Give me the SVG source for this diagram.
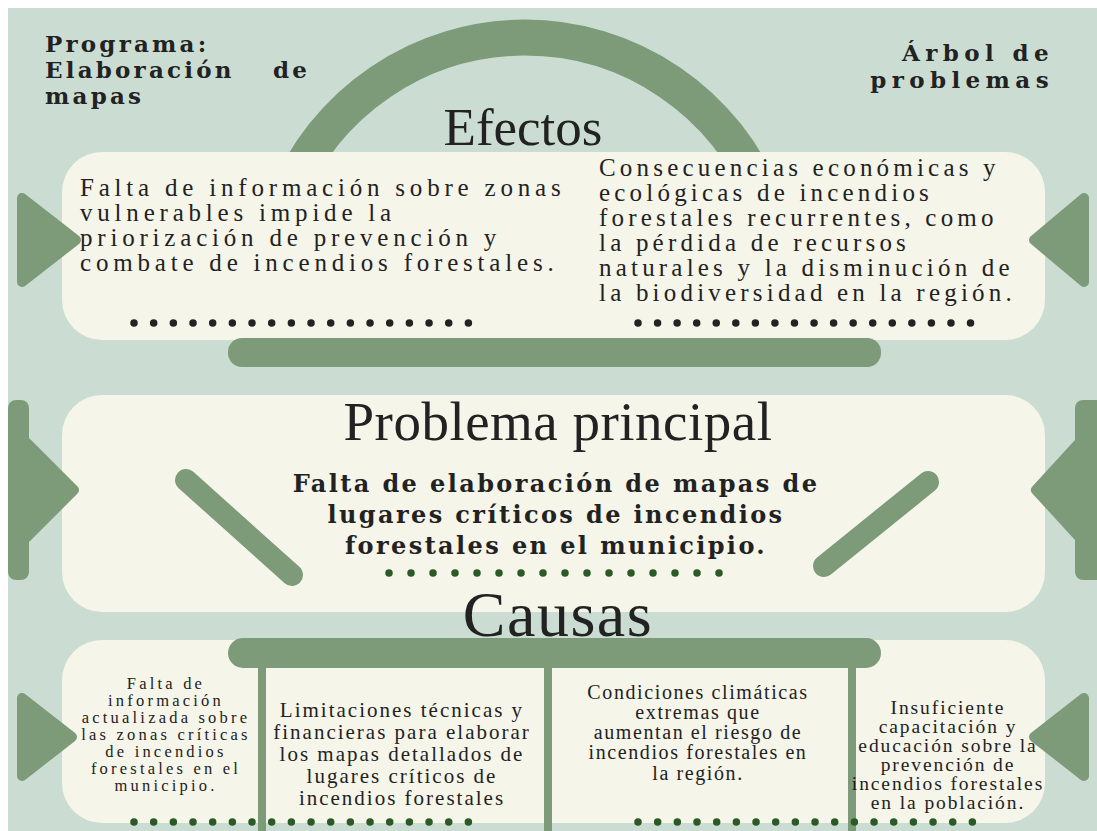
<svg xmlns="http://www.w3.org/2000/svg" width="1097" height="831" viewBox="0 0 1097 831">
<style>
.bg{fill:#cbddd2}
.card{fill:#f5f5ea}
.g{fill:#7d9b78}
.tri{fill:#7d9b78;stroke:#7d9b78;stroke-width:10;stroke-linejoin:round}
.bar{stroke:#7d9b78;stroke-linecap:round;fill:none}
.r{font-family:"Liberation Serif","Times New Roman",serif;fill:#222}
.b{font-family:"DejaVu Serif",serif;font-weight:bold;fill:#222}
.dots{stroke-linecap:round;stroke-width:7.5;fill:none}
.dk{stroke:#232323}
.dg{stroke:#2c5a26}
</style>
<rect x="0" y="0" width="1097" height="831" fill="#ffffff"/>
<rect class="bg" x="8" y="8" width="1089" height="823"/>

<g id="connectors">
  <path d="M 285.7 200 A 257.5 257.5 0 0 1 764.3 200" fill="none" stroke="#7d9b78" stroke-width="36"/>
</g>

<g id="title-programa">
  <text class="b" font-size="23" letter-spacing="3.2" x="45" y="52">Programa:</text>
  <text class="b" font-size="23" letter-spacing="3.2" x="45" y="78">Elaboración</text>
  <text class="b" font-size="23" letter-spacing="3.2" x="273" y="78">de</text>
  <text class="b" font-size="23" letter-spacing="3.2" x="45" y="104">mapas</text>
</g>
<g id="title-arbol">
  <text class="b" font-size="23" letter-spacing="5.4" x="1054" y="61" text-anchor="end">Árbol de</text>
  <text class="b" font-size="23" letter-spacing="5.4" x="1054" y="88" text-anchor="end">problemas</text>
</g>

<g id="effects">
  <rect class="card" x="62" y="152" width="983" height="188" rx="40"/>
  <text class="r" font-size="53" x="523" y="145" text-anchor="middle">Efectos</text>
  <polygon class="tri" points="22,198 22,282 76,240"/>
  <polygon class="tri" points="1084,198 1084,282 1034,240"/>
  <g id="effect-1">
    <text class="r" font-size="25" letter-spacing="4.8" x="80" y="196">Falta de información sobre zonas</text>
    <text class="r" font-size="25" letter-spacing="4.8" x="80" y="221">vulnerables impide la</text>
    <text class="r" font-size="25" letter-spacing="4.8" x="80" y="246">priorización de prevención y</text>
    <text class="r" font-size="25" letter-spacing="4.8" x="80" y="271">combate de incendios forestales.</text>
    <line class="dots dk" x1="134" y1="323" x2="488" y2="323" stroke-dasharray="0 19.67"/>
  </g>
  <g id="effect-2">
    <text class="r" font-size="25" letter-spacing="4.2" x="599" y="176">Consecuencias económicas y</text>
    <text class="r" font-size="25" letter-spacing="4.2" x="599" y="201">ecológicas de incendios</text>
    <text class="r" font-size="25" letter-spacing="4.2" x="599" y="226">forestales recurrentes, como</text>
    <text class="r" font-size="25" letter-spacing="4.2" x="599" y="251">la pérdida de recursos</text>
    <text class="r" font-size="25" letter-spacing="4.2" x="599" y="276">naturales y la disminución de</text>
    <text class="r" font-size="25" letter-spacing="4.2" x="599" y="301">la biodiversidad en la región.</text>
    <line class="dots dk" x1="638" y1="323" x2="990" y2="323" stroke-dasharray="0 19.56"/>
  </g>
  <rect class="g" x="228" y="338" width="653" height="29" rx="14"/>
</g>

<g id="problem">
  <rect class="card" x="62" y="395" width="983" height="217" rx="40"/>
  <rect class="g" x="8" y="400" width="21" height="180" rx="8"/>
  <polygon class="tri" points="26,442 26,538 74,490"/>
  <rect class="g" x="1075" y="400" width="30" height="180" rx="8"/>
  <polygon class="tri" points="1080,442 1080,538 1036,490"/>
  <line class="bar" x1="186" y1="480" x2="292" y2="575" stroke-width="22"/>
  <line class="bar" x1="928" y1="482" x2="824" y2="566" stroke-width="22"/>
  <text class="r" font-size="55" letter-spacing="0.5" x="558" y="440" text-anchor="middle">Problema principal</text>
  <text class="b" font-size="24" letter-spacing="2.4" x="556" y="492" text-anchor="middle">Falta de elaboración de mapas de</text>
  <text class="b" font-size="24" letter-spacing="2.4" x="556" y="523" text-anchor="middle">lugares críticos de incendios</text>
  <text class="b" font-size="24" letter-spacing="2.4" x="556" y="554" text-anchor="middle">forestales en el municipio.</text>
  <line class="dots dg" x1="389" y1="573" x2="741" y2="573" stroke-dasharray="0 22"/>
</g>

<g id="causes">
  <rect class="card" x="62" y="640" width="983" height="183" rx="40"/>
  <text class="r" font-size="64" letter-spacing="1.5" x="558" y="636" text-anchor="middle">Causas</text>
  <polygon class="tri" points="22,698 22,776 72,737"/>
  <polygon class="tri" points="1084,698 1084,776 1034,737"/>
  <rect class="g" x="228" y="638" width="653" height="30" rx="15"/>
  <rect class="g" x="258" y="655" width="8" height="176"/>
  <rect class="g" x="544" y="655" width="8" height="176"/>
  <rect class="g" x="848" y="655" width="8" height="176"/>
  <g id="cause-1">
    <text class="r" font-size="16.5" letter-spacing="3.2" x="166" y="689" text-anchor="middle">Falta de</text>
    <text class="r" font-size="16.5" letter-spacing="3.2" x="166" y="706" text-anchor="middle">información</text>
    <text class="r" font-size="16.5" letter-spacing="3.2" x="166" y="723" text-anchor="middle">actualizada sobre</text>
    <text class="r" font-size="16.5" letter-spacing="3.2" x="166" y="740" text-anchor="middle">las zonas críticas</text>
    <text class="r" font-size="16.5" letter-spacing="3.2" x="166" y="757" text-anchor="middle">de incendios</text>
    <text class="r" font-size="16.5" letter-spacing="3.2" x="166" y="774" text-anchor="middle">forestales en el</text>
    <text class="r" font-size="16.5" letter-spacing="3.2" x="166" y="791" text-anchor="middle">municipio.</text>
  </g>
  <g id="cause-2">
    <text class="r" font-size="21" letter-spacing="2" x="402" y="717" text-anchor="middle">Limitaciones técnicas y</text>
    <text class="r" font-size="21" letter-spacing="2" x="402" y="739" text-anchor="middle">financieras para elaborar</text>
    <text class="r" font-size="21" letter-spacing="2" x="402" y="761" text-anchor="middle">los mapas detallados de</text>
    <text class="r" font-size="21" letter-spacing="2" x="402" y="783" text-anchor="middle">lugares críticos de</text>
    <text class="r" font-size="21" letter-spacing="2" x="402" y="805" text-anchor="middle">incendios forestales</text>
  </g>
  <g id="cause-3">
    <text class="r" font-size="20" letter-spacing="1.6" x="698" y="699" text-anchor="middle">Condiciones climáticas</text>
    <text class="r" font-size="20" letter-spacing="1.6" x="698" y="719" text-anchor="middle">extremas que</text>
    <text class="r" font-size="20" letter-spacing="1.6" x="698" y="739" text-anchor="middle">aumentan el riesgo de</text>
    <text class="r" font-size="20" letter-spacing="1.6" x="698" y="759" text-anchor="middle">incendios forestales en</text>
    <text class="r" font-size="20" letter-spacing="1.6" x="698" y="780" text-anchor="middle">la región.</text>
  </g>
  <g id="cause-4">
    <text class="r" font-size="19.5" letter-spacing="1.9" x="948" y="714" text-anchor="middle">Insuficiente</text>
    <text class="r" font-size="19.5" letter-spacing="1.9" x="948" y="733" text-anchor="middle">capacitación y</text>
    <text class="r" font-size="19.5" letter-spacing="1.9" x="948" y="752" text-anchor="middle">educación sobre la</text>
    <text class="r" font-size="19.5" letter-spacing="1.9" x="948" y="771" text-anchor="middle">prevención de</text>
    <text class="r" font-size="19.5" letter-spacing="1.9" x="948" y="790" text-anchor="middle">incendios forestales</text>
    <text class="r" font-size="19.5" letter-spacing="1.9" x="948" y="809" text-anchor="middle">en la población.</text>
  </g>
  <line class="dots dg" x1="134" y1="822" x2="488" y2="822" stroke-dasharray="0 19.67"/>
  <line class="dots dg" x1="638" y1="822" x2="992" y2="822" stroke-dasharray="0 19.67"/>
</g>
</svg>
